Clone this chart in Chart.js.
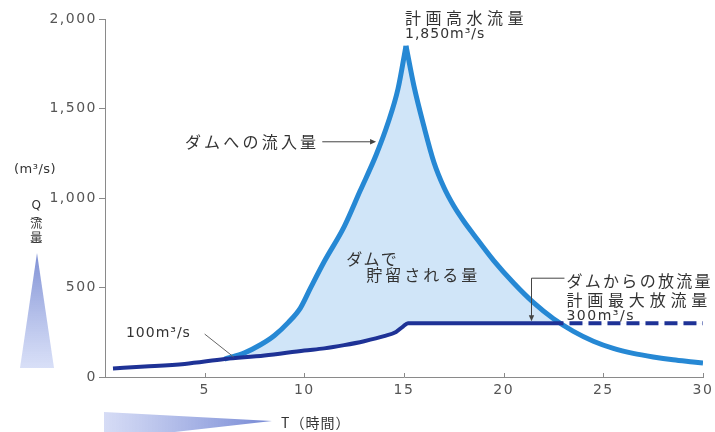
<!DOCTYPE html>
<html>
<head>
<meta charset="utf-8">
<script src="https://cdn.jsdelivr.net/npm/chart.js@4/dist/chart.umd.min.js"></script>
<style>
  html, body { margin: 0; padding: 0; background: #fff; }
  #wrap { width: 715px; height: 432px; position: relative; }
</style>
</head>
<body>
<div id="wrap"><canvas id="c" width="715" height="432"></canvas></div>
<script>
// Hydrograph: inflow to the dam vs. released outflow (m³/s over hours)
const peakQ = 1850;        // 計画高水流量
const maxRelease = 300;    // 計画最大放流量
const baseQ = 100;         // flow where the two curves part

// outflow from the dam
const outflowT = [0.4, 2, 4, 6, 8, 10, 11, 12, 13, 14, 14.6, 14.95, 15.2, 23, 30];
const outflowQ = [48, 58, 73, baseQ, 120, 148, 160, 178, 200, 228, 252, 282, maxRelease, maxRelease, maxRelease];

// inflow to the dam, rising limb (up to the peak)
const inflowRiseT = [6, 7, 7.8, 8.5, 9.2, 9.8, 10.3, 11, 12, 12.8, 13.6, 14.2, 14.7, 15.1];
const inflowRiseQ = [baseQ, 135, 180, 232, 305, 385, 495, 645, 840, 1040, 1240, 1420, 1610, peakQ];

// inflow to the dam, falling limb (after the peak)
const inflowFallT = [15.1, 15.5, 16, 16.5, 17, 17.5, 18, 18.5, 19.5, 20.5, 21.5, 22.5, 23.5, 24.5, 25.5, 26.5, 27.5, 28.5, 29.5, 30];
const inflowFallQ = [peakQ, 1625, 1400, 1200, 1060, 955, 870, 795, 650, 525, 415, 325, 255, 200, 160, 132, 112, 96, 84, 78];

const xTicks = [5, 10, 15, 20, 25, 30];
const yTicks = [0, 500, 1000, 1500, 2000];
const dashFromT = 22.8;

const toPoints = (ts, qs) => ts.map((t, i) => ({ x: t, y: qs[i] }));

const inflowColor = 'rgb(38,136,212)';
const outflowColor = 'rgb(30,50,150)';
const storageFill = 'rgba(206,228,248,0.95)';
const textColor = '#333';
const jpFont = '"Noto Sans CJK JP", "Noto Sans", sans-serif';
const numFont = '"DejaVu Sans", sans-serif';

// tick labels are drawn with a little tracking
const tracking = {
  id: 'tracking',
  beforeLayout(chart) { chart.ctx.letterSpacing = '1.5px'; },
  beforeDraw(chart) { chart.ctx.letterSpacing = '1.5px'; }
};

function drawText(ctx, str, x, y, font, spacing, align) {
  ctx.save();
  ctx.font = font;
  ctx.letterSpacing = spacing + 'px';
  ctx.fillStyle = textColor;
  ctx.textAlign = align || 'left';
  ctx.textBaseline = 'middle';
  ctx.fillText(str, x, y);
  ctx.restore();
}

function arrowHead(ctx, x, y, dir, size) {
  ctx.beginPath();
  if (dir === 'right') {
    ctx.moveTo(x, y); ctx.lineTo(x - size, y - size * 0.45); ctx.lineTo(x - size, y + size * 0.45);
  } else {
    ctx.moveTo(x, y); ctx.lineTo(x - size * 0.45, y - size); ctx.lineTo(x + size * 0.45, y - size);
  }
  ctx.closePath();
  ctx.fill();
}

const notes = {
  id: 'notes',
  afterDatasetsDraw(chart) {
    const ctx = chart.ctx;
    const sx = chart.scales.x, sy = chart.scales.y;
    const X = v => sx.getPixelForValue(v);
    const Y = v => sy.getPixelForValue(v);

    // inward x tick marks
    ctx.save();
    ctx.strokeStyle = '#8a8a8a';
    ctx.lineWidth = 1;
    xTicks.forEach(t => {
      const x = Math.round(X(t)) + 0.5;
      ctx.beginPath(); ctx.moveTo(x, Y(0)); ctx.lineTo(x, Y(0) - 4); ctx.stroke();
    });
    ctx.restore();

    // peak label
    drawText(ctx, '計画高水流量', X(15.05), Y(2008), '16px ' + jpFont, 4.5);
    drawText(ctx, peakQ.toLocaleString('en-US') + 'm³/s', X(15.05), Y(1912), '14px ' + numFont, 1);

    // inflow label with arrow
    drawText(ctx, 'ダムへの流入量', X(10.75), Y(1314), '16px ' + jpFont, 3.2, 'right');
    ctx.save();
    ctx.strokeStyle = '#444'; ctx.fillStyle = '#444'; ctx.lineWidth = 1;
    ctx.beginPath(); ctx.moveTo(X(10.9), Y(1314)); ctx.lineTo(X(13.4), Y(1314)); ctx.stroke();
    arrowHead(ctx, X(13.6), Y(1314), 'right', 6);
    ctx.restore();

    // stored volume
    drawText(ctx, 'ダムで', X(12.1), Y(658), '16px ' + jpFont, 1.3);
    drawText(ctx, '貯留される量', X(13.1), Y(570), '16px ' + jpFont, 3);

    // base flow label
    drawText(ctx, baseQ + 'm³/s', X(1.05), Y(246), '14px ' + numFont, 1);
    ctx.save();
    ctx.strokeStyle = '#666'; ctx.lineWidth = 1;
    ctx.beginPath(); ctx.moveTo(X(5.0), Y(240)); ctx.lineTo(X(6.45), Y(112)); ctx.stroke();
    ctx.restore();

    // release labels with bracket arrow
    drawText(ctx, 'ダムからの放流量', X(23.15), Y(538), '16px ' + jpFont, 2.3);
    drawText(ctx, '計画最大放流量', X(23.15), Y(432), '16px ' + jpFont, 4.8);
    drawText(ctx, maxRelease + 'm³/s', X(23.15), Y(337), '14px ' + numFont, 1.5);
    ctx.save();
    ctx.strokeStyle = '#444'; ctx.fillStyle = '#444'; ctx.lineWidth = 1;
    const bx = Math.round(X(21.35)) + 0.5;
    ctx.beginPath();
    ctx.moveTo(X(23.05), Y(552)); ctx.lineTo(bx, Y(552)); ctx.lineTo(bx, Y(maxRelease + 40));
    ctx.stroke();
    arrowHead(ctx, bx, Y(maxRelease + 12), 'down', 6);
    ctx.restore();

    // axis captions
    drawText(ctx, '(m³/s)', 14, 170, '13px ' + numFont, 0.5);
    const vert = ['Q', '︵', '流', '量', '︶'];
    const vy = [206, 214, 223, 237, 246];
    ctx.save();
    ctx.fillStyle = textColor;
    ctx.textAlign = 'center'; ctx.textBaseline = 'middle';
    vert.forEach((ch, i) => {
      ctx.font = (i === 0 ? '12px ' + numFont : '12px ' + jpFont);
      ctx.fillText(ch, 37, vy[i]);
    });
    ctx.restore();
    drawText(ctx, 'T（時間）', 281, 423, '14px ' + jpFont, 1);

    // direction wedges
    ctx.save();
    let g = ctx.createLinearGradient(0, 253, 0, 368);
    g.addColorStop(0, 'rgba(120,138,210,0.95)');
    g.addColorStop(1, 'rgba(200,210,244,0.7)');
    ctx.fillStyle = g;
    ctx.beginPath(); ctx.moveTo(37, 253); ctx.lineTo(54, 368); ctx.lineTo(20, 368); ctx.closePath(); ctx.fill();
    g = ctx.createLinearGradient(104, 0, 272, 0);
    g.addColorStop(0, 'rgba(200,208,242,0.75)');
    g.addColorStop(1, 'rgba(110,130,210,0.95)');
    ctx.fillStyle = g;
    ctx.beginPath(); ctx.moveTo(104, 412); ctx.lineTo(272, 421); ctx.lineTo(104, 440); ctx.closePath(); ctx.fill();
    ctx.restore();
  }
};

new Chart(document.getElementById('c'), {
  type: 'line',
  data: {
    datasets: [
      {
        label: 'ダムからの放流量',
        data: toPoints(outflowT, outflowQ),
        borderColor: outflowColor,
        borderWidth: 4,
        pointRadius: 0,
        cubicInterpolationMode: 'monotone',
        fill: false,
        segment: {
          borderDash: c => (c.p0.parsed.x >= dashFromT ? [13, 6] : undefined),
          borderDashOffset: c => (c.p0.parsed.x >= dashFromT ? 13 : 0)
        }
      },
      {
        label: 'ダムへの流入量',
        data: toPoints(inflowRiseT, inflowRiseQ),
        borderColor: inflowColor,
        borderWidth: 5,
        pointRadius: 0,
        cubicInterpolationMode: 'monotone',
        fill: { target: 0, above: storageFill, below: 'rgba(0,0,0,0)' }
      },
      {
        label: 'ダムへの流入量 (減水)',
        data: toPoints(inflowFallT, inflowFallQ),
        borderColor: inflowColor,
        borderWidth: 5,
        pointRadius: 0,
        cubicInterpolationMode: 'monotone',
        fill: { target: 0, above: storageFill, below: 'rgba(0,0,0,0)' }
      }
    ]
  },
  options: {
    responsive: false,
    animation: false,
    events: [],
    layout: { padding: { top: 19, right: 12, bottom: 0, left: 0 } },
    plugins: { legend: { display: false }, tooltip: { enabled: false } },
    scales: {
      x: {
        type: 'linear',
        min: 0, max: 30,
        afterFit(s) { s.height = 55; s.paddingRight = 0; s.paddingLeft = 0; },
        afterBuildTicks(s) { s.ticks = xTicks.map(v => ({ value: v })); },
        grid: { display: false, drawTicks: true, tickLength: 4 },
        border: { display: true, color: '#8a8a8a', width: 1 },
        ticks: { color: '#555', font: { family: numFont, size: 14 }, padding: 1 }
      },
      y: {
        min: 0, max: 2000,
        afterFit(s) { s.width = 105; },
        afterBuildTicks(s) { s.ticks = yTicks.map(v => ({ value: v })); },
        grid: { drawOnChartArea: false, drawTicks: true, tickLength: 6, color: '#8a8a8a' },
        border: { display: true, color: '#8a8a8a', width: 1 },
        ticks: {
          color: '#555', font: { family: numFont, size: 14 }, padding: 2,
          callback: v => v.toLocaleString('en-US')
        }
      }
    }
  },
  plugins: [tracking, notes]
});
</script>
</body>
</html>
